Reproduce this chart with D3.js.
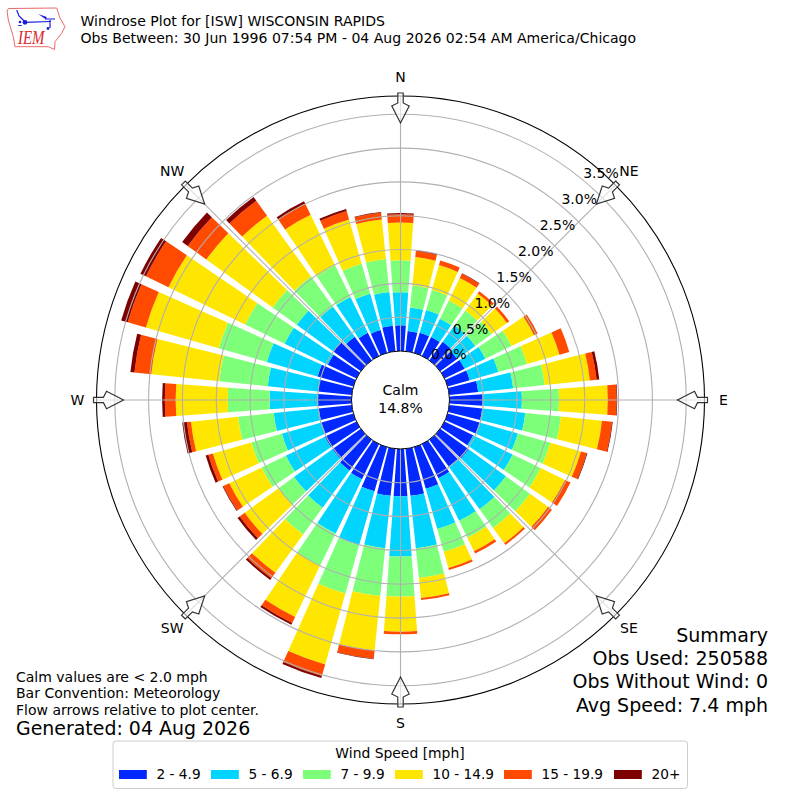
<!DOCTYPE html>
<html>
<head>
<meta charset="utf-8">
<script src="https://cdn.jsdelivr.net/npm/d3@7"></script>
<style>
  html, body { margin: 0; padding: 0; background: #fff; }
  text { font-family: "DejaVu Sans", sans-serif; fill: #000; }
</style>
</head>
<body>
<div id="chart"></div>
<script>
// Wind directions (degrees) and frequency (%) per speed bin
const directions = [0, 10, 20, 30, 40, 50, 60, 70, 80, 90, 100, 110, 120, 130, 140, 150, 160, 170,
    180, 190, 200, 210, 220, 230, 240, 250, 260, 270, 280, 290, 300, 310, 320, 330, 340, 350];
const speed2to5 = [.38, .30, .31, .31, .34, .31, .33, .34, .43, .49, .49, .49, .47, .52, .49, .56, .64, .70,
    .70, .70, .68, .58, .56, .52, .52, .49, .49, .50, .50, .55, .47, .50, .43, .38, .35, .38];
const speed5to7 = [.49, .35, .35, .30, .30, .33, .34, .44, .52, .58, .64, .59, .65, .68, .78, .70, .62, .78,
    .89, .78, .83, .89, .68, .70, .64, .61, .67, .71, .75, .78, .71, .67, .55, .59, .56, .50];
const speed7to10 = [.47, .33, .31, .30, .27, .30, .43, .44, .47, .55, .53, .50, .46, .44, .34, .28, .35, .44,
    .59, .71, .74, .53, .49, .28, .40, .47, .53, .62, .72, .74, .65, .44, .55, .52, .46, .49];
const speed10to15 = [.56, .42, .38, .37, .31, .28, .37, .50, .67, .72, .61, .47, .40, .33, .28, .22, .25, .30,
    .52, .81, 1.09, .84, .70, .62, .53, .59, .70, .77, 1.01, 1.12, 1.26, 1.21, 1.11, .83, .68, .59];
const speed15to20 = [.12, .09, .07, .07, .04, .04, .06, .15, .10, .13, .15, .09, .09, .07, .03, .04, .03, .03,
    .04, .12, .18, .10, .10, .09, .10, .07, .06, .16, .25, .28, .37, .34, .27, .18, .13, .10];
const speed20plus = [.02, .01, .00, .01, .00, .00, .00, .00, .04, .01, .01, .01, .00, .00, .00, .00, .00, .00,
    .00, .01, .03, .03, .03, .04, .01, .04, .07, .04, .06, .10, .09, .10, .07, .04, .03, .01];

const speedLabels = ["2 - 4.9", "5 - 6.9", "7 - 9.9", "10 - 14.9", "15 - 19.9", "20+"];
const speedColors = ["#0028ff", "#00d4ff", "#7dff7a", "#ffe600", "#ff4a00", "#7f0000"];
const ringTicks = [0, 0.5, 1, 1.5, 2, 2.5, 3, 3.5];
const compass = ["N", "NE", "E", "SE", "S", "SW", "W", "NW"];
const compassAngles = [0, 45, 90, 135, 180, 225, 270, 315];

const titleLines = ["Windrose Plot for [ISW] WISCONSIN RAPIDS",
    "Obs Between: 30 Jun 1996 07:54 PM - 04 Aug 2026 02:54 AM America/Chicago"];
const noteLines = ["Calm values are < 2.0 mph", "Bar Convention: Meteorology", "Flow arrows relative to plot center."];
const summaryLines = ["Summary", "Obs Used: 250588", "Obs Without Wind: 0", "Avg Speed: 7.4 mph"];

const cx = 400.5, cy = 400, rInner = 49, rOuter = 304;
const rad = d => d * Math.PI / 180;

const svg = d3.select("#chart").append("svg")
    .attr("width", 800)
    .attr("height", 800)
    .style("display", "block");

const g = svg.append("g").attr("transform", "translate(" + cx + "," + cy + ")");

// radius scale, 0% sits on the inner hole
const r = d3.scaleLinear().domain([0, 3.77]).range([rInner, rOuter]);

// stack the speed bins per direction
const rows = directions.map((d, i) => ({
    dir: d, 0: speed2to5[i], 1: speed5to7[i], 2: speed7to10[i], 3: speed10to15[i], 4: speed15to20[i], 5: speed20plus[i]
}));
const series = d3.stack().keys([0, 1, 2, 3, 4, 5])(rows);

const arc = d3.arc()
    .innerRadius(d => r(d[0]))
    .outerRadius(d => r(d[1]))
    .startAngle(d => rad(d.data.dir - 4.1))
    .endAngle(d => rad(d.data.dir + 4.1));

series.forEach((s, i) => {
    g.append("g").selectAll("path")
        .data(s)
        .enter().append("path")
        .attr("d", arc)
        .attr("fill", speedColors[i]);
});

// grid goes on top of the bars
g.selectAll(".ring")
    .data(ringTicks.slice(1))
    .enter().append("circle")
    .attr("r", d => r(d))
    .attr("fill", "none")
    .attr("stroke", "#b0b0b0")
    .attr("stroke-width", 1.1);

g.selectAll(".spoke")
    .data(compassAngles)
    .enter().append("line")
    .attr("x1", d => rInner * Math.sin(rad(d)))
    .attr("y1", d => -rInner * Math.cos(rad(d)))
    .attr("x2", d => rOuter * Math.sin(rad(d)))
    .attr("y2", d => -rOuter * Math.cos(rad(d)))
    .attr("stroke", "#b0b0b0")
    .attr("stroke-width", 1.1);

g.append("circle").attr("r", rInner).attr("fill", "#fff").attr("stroke", "#000").attr("stroke-width", 1);
g.append("circle").attr("r", rOuter).attr("fill", "none").attr("stroke", "#000").attr("stroke-width", 1.1);

// flow arrows
const arrowPath = "M-2.7,-307 L2.7,-307 L2.7,-297 L8.7,-294 L0,-277 L-8.7,-294 L-2.7,-297 Z";
g.selectAll(".arrow")
    .data(compassAngles)
    .enter().append("path")
    .attr("d", arrowPath)
    .attr("transform", d => "rotate(" + d + ")")
    .attr("fill", "#fff")
    .attr("fill-opacity", 0.6)
    .attr("stroke", "#333")
    .attr("stroke-width", 1.2);

// ring labels along 40 degrees
g.selectAll(".ringLabel")
    .data(ringTicks)
    .enter().append("text")
    .attr("x", d => r(d) * Math.sin(rad(40)) - 1)
    .attr("y", d => -r(d) * Math.cos(rad(40)) - 3)
    .attr("font-size", 14)
    .text(d => d.toFixed(1) + "%");

// compass labels
g.selectAll(".dirLabel")
    .data(compass)
    .enter().append("text")
    .attr("x", (d, i) => 323 * Math.sin(rad(compassAngles[i])))
    .attr("y", (d, i) => -323 * Math.cos(rad(compassAngles[i])) + 4.5)
    .attr("text-anchor", "middle")
    .attr("font-size", 14)
    .text(d => d);

// calm text in the hole
g.append("text").attr("y", -5).attr("text-anchor", "middle").attr("font-size", 14).text("Calm");
g.append("text").attr("y", 13).attr("text-anchor", "middle").attr("font-size", 14).text("14.8%");

// title
svg.selectAll(".title")
    .data(titleLines)
    .enter().append("text")
    .attr("x", 80.5)
    .attr("y", (d, i) => 25.5 + i * 17)
    .attr("font-size", 14.05)
    .text(d => d);

// bottom left notes
svg.selectAll(".note")
    .data(noteLines)
    .enter().append("text")
    .attr("x", 16)
    .attr("y", (d, i) => 681.5 + i * 16.7)
    .attr("font-size", 14)
    .text(d => d);
svg.append("text").attr("x", 16).attr("y", 735).attr("font-size", 18.95).text("Generated: 04 Aug 2026");

// summary
svg.selectAll(".summary")
    .data(summaryLines)
    .enter().append("text")
    .attr("x", 768)
    .attr("y", (d, i) => 641.7 + i * 23.3)
    .attr("text-anchor", "end")
    .attr("font-size", 19)
    .text(d => d);

// legend
svg.append("rect")
    .attr("x", 113).attr("y", 741)
    .attr("width", 574.5).attr("height", 47.5)
    .attr("rx", 3)
    .attr("fill", "#fff")
    .attr("stroke", "#ccc");
svg.append("text").attr("x", 400).attr("y", 758).attr("text-anchor", "middle").attr("font-size", 13.9).text("Wind Speed [mph]");
const legendX = [119, 211, 303, 395, 504, 614];
speedLabels.forEach((label, i) => {
    svg.append("rect")
        .attr("x", legendX[i]).attr("y", 770)
        .attr("width", 27.8).attr("height", 9)
        .attr("fill", speedColors[i]);
    svg.append("text")
        .attr("x", legendX[i] + 37.5).attr("y", 779)
        .attr("font-size", 13.7)
        .text(label);
});

// IEM logo, rough outline of Iowa with a station plot
const logo = svg.append("g");
logo.append("path")
    .attr("d", "M7,11 L8.5,8.5 L56.7,8 L60,18 L65,26.7 L61.7,33.3 L55,41.7 L54.5,49.5 L48.3,46.7 L15,46.7 L13.3,36.7 L8.3,20 Z")
    .attr("fill", "none")
    .attr("stroke", "#e8696b")
    .attr("stroke-width", 1);
logo.append("path")
    .attr("d", "M25,22.3 L51,21.5 M45,19 L55,19 M50,20 L50,28 M16.7,10 L19,16 L25,21.7 M18.3,25.5 L21.7,25.5")
    .attr("fill", "none")
    .attr("stroke", "#1a1ae0")
    .attr("stroke-width", 1.2);
logo.append("path").attr("d", "M38.3,14 L46.7,17 L46,19.5 Z").attr("fill", "#1a1ae0");
logo.append("circle").attr("cx", 25).attr("cy", 22.3).attr("r", 2.4).attr("fill", "#1a1ae0");
logo.append("circle").attr("cx", 48).attr("cy", 28.5).attr("r", 1.4).attr("fill", "#1a1ae0");
logo.append("circle").attr("cx", 20).attr("cy", 22).attr("r", 1.3).attr("fill", "#1a1ae0");
logo.append("text")
    .attr("x", 18).attr("y", 44.3)
    .attr("font-size", 18)
    .attr("textLength", 26.5)
    .attr("lengthAdjust", "spacingAndGlyphs")
    .style("font-family", "'Liberation Serif', serif")
    .style("font-style", "italic")
    .style("fill", "#d9262c")
    .text("IEM");
</script>
</body>
</html>
